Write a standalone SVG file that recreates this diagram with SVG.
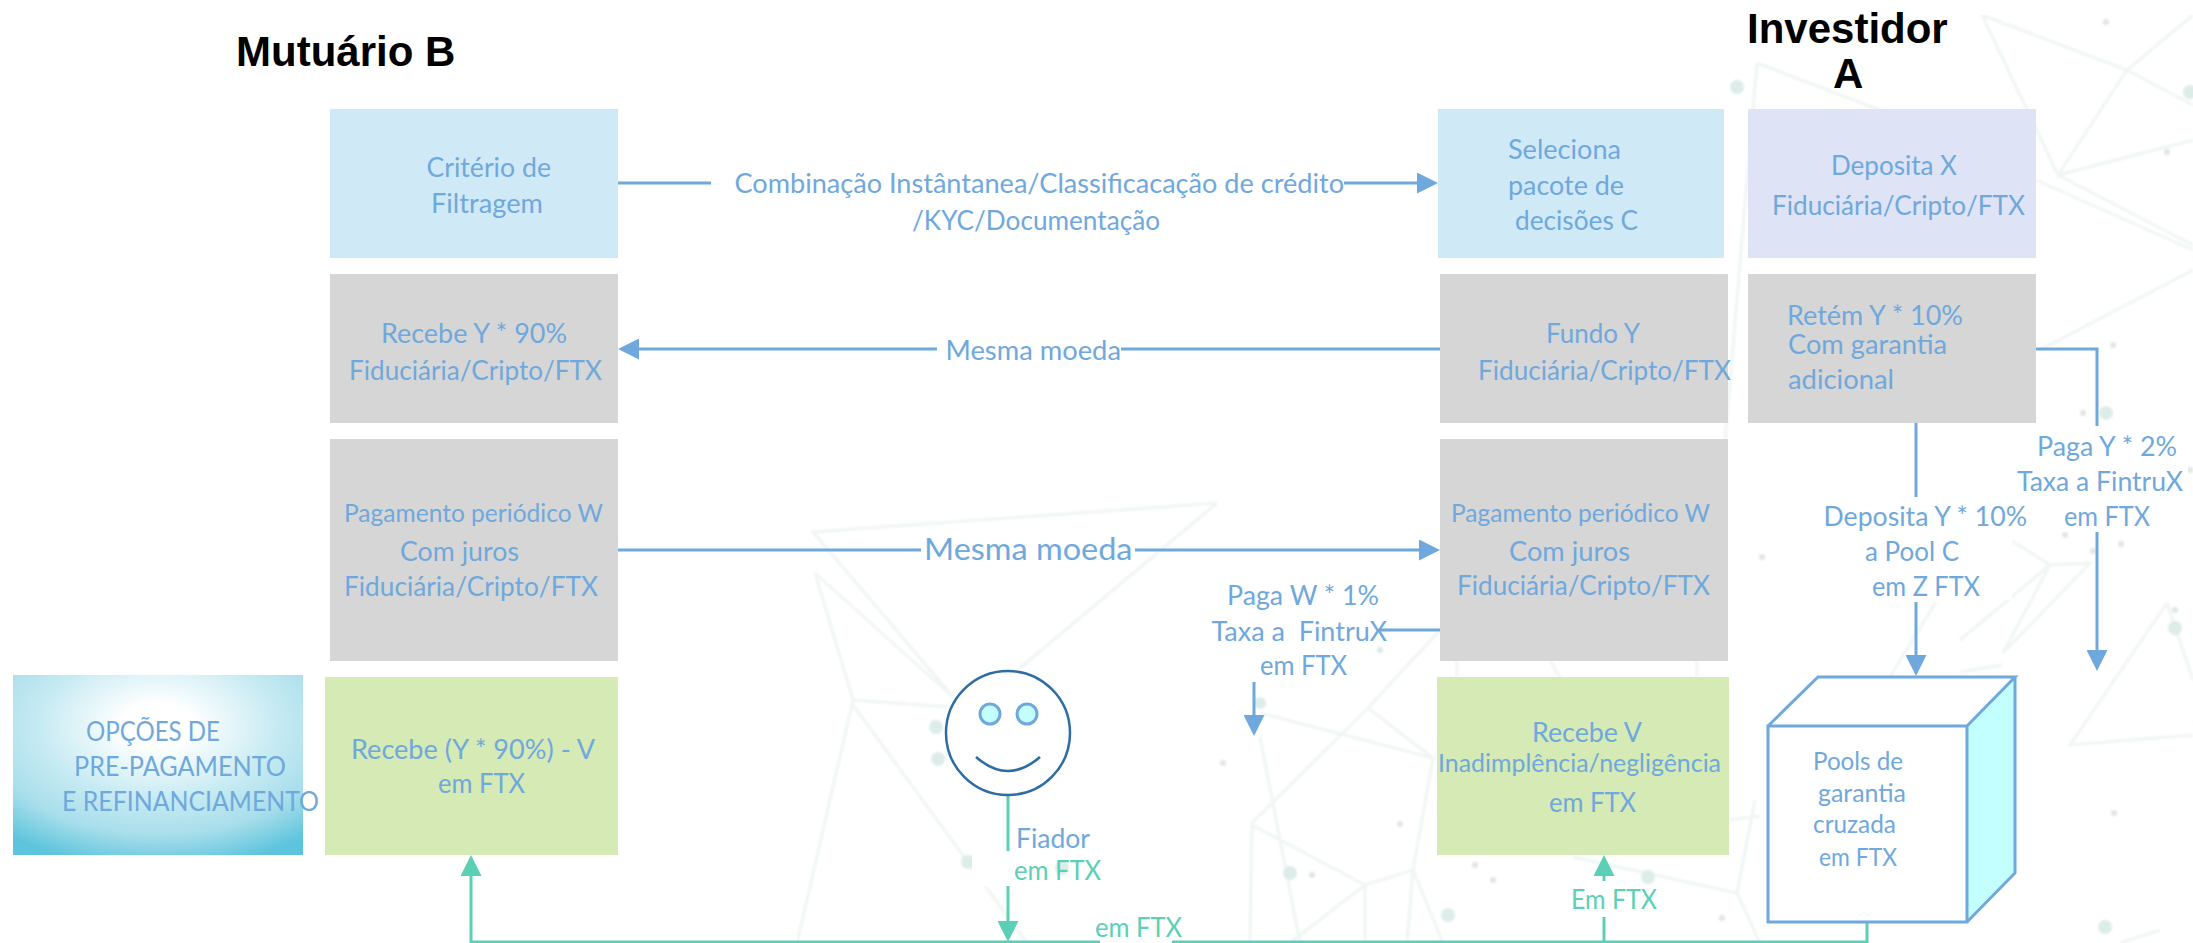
<svg xmlns="http://www.w3.org/2000/svg" width="2193" height="943" viewBox="0 0 2193 943">
<style>
text{font-family:Lato,"Open Sans","Noto Sans",sans-serif;font-size:27px;fill:#6fa8dc}
.h{font-family:"Liberation Sans",Arial,sans-serif;font-weight:bold;font-size:42px;fill:#000}
.s{font-size:25px}
.g{fill:#5bd0b5}
.c{fill:none;stroke:#6fa8dc;stroke-width:3}
.t{fill:none;stroke:#5bd0b5;stroke-width:3}
.bl{fill:none;stroke:#eff5f4;stroke-width:3}
.d1{fill:#dcece9}
.d2{fill:#dfe6e5}
.blue{fill:#d0e9f7}.grey{fill:#d6d6d6}.lime{fill:#d5eab5}.lav{fill:#dee3f5}
</style>
<defs>
<filter id="soft" x="0" y="0" width="1" height="1"><feGaussianBlur stdDeviation="0.9"/></filter>
<marker id="ab" markerUnits="userSpaceOnUse" markerWidth="21" markerHeight="21" refX="11" refY="10.5" orient="auto"><path d="M0 0L21 10.5L0 21z" fill="#6fa8dc"/></marker>
<marker id="ag" markerUnits="userSpaceOnUse" markerWidth="21" markerHeight="21" refX="11" refY="10.5" orient="auto"><path d="M0 0L21 10.5L0 21z" fill="#5bd0b5"/></marker>
<radialGradient id="opt" cx="0.5" cy="0.28" r="0.8">
<stop offset="0.15" stop-color="#fff"/><stop offset="0.5" stop-color="#c8ebf3"/><stop offset="0.76" stop-color="#a8deeb"/><stop offset="1" stop-color="#5cc4dc"/>
</radialGradient>
</defs>
<rect width="2193" height="943" fill="#fff"/>
<g id="background" filter="url(#soft)">
<path class="bl" d="M1217 503L813 532L953 697M815 573L953 697M815 573L853 700L950 707M853 700L797 943M853 705L1027 943M1217 503L1020 668M1260 737L1300 943M1252 823L1368 708L1440 630M1368 708L1433 758L1413 870L1407 943M1260 713L1433 758M1252 823L1250 943M1252 825L1365 885L1413 870L1443 943M1365 885V943M1365 885L1290 943M1573 857L1737 893L1760 943M1729 820L1760 816M1737 893L1755 800M1457 661V677M1550 661L1560 677M1697 661V677"/>
<path class="bl" d="M1982 15L2127 70L2193 105M1982 15L2058 175L2127 70L2193 15M2058 175L2193 140M2058 175L2193 245M2036 180L2193 250M1757 63L1880 110M1757 63L1725 440M2193 270L2040 350M2050 565L2090 563L2003 653L2050 565L2012 541M2050 565L1960 640M2003 665L1960 672M2167 603L2070 745L2193 735M2167 603L2193 680M2160 930L2120 943M1936 602L1890 677"/>
<g class="d1">
<circle cx="936" cy="727" r="7"/><circle cx="938" cy="759" r="7"/><circle cx="968" cy="862" r="7"/><circle cx="1062" cy="868" r="7"/><circle cx="1260" cy="703" r="6"/><circle cx="1290" cy="873" r="7"/><circle cx="1448" cy="915" r="7"/><circle cx="1648" cy="877" r="7"/><circle cx="1737" cy="87" r="7"/><circle cx="2106" cy="413" r="7"/><circle cx="2190" cy="92" r="7"/><circle cx="2175" cy="628" r="7"/><circle cx="2105" cy="927" r="7"/>
</g>
<g class="d2">
<circle cx="1223" cy="763" r="3"/><circle cx="1380" cy="650" r="3"/><circle cx="1400" cy="824" r="3"/><circle cx="1312" cy="875" r="3"/><circle cx="1475" cy="865" r="3"/><circle cx="1493" cy="880" r="3"/><circle cx="1722" cy="918" r="3"/><circle cx="2106" cy="22" r="3"/><circle cx="2167" cy="152" r="3"/><circle cx="2113" cy="345" r="3"/><circle cx="2083" cy="413" r="3"/><circle cx="2065" cy="535" r="3"/><circle cx="2093" cy="551" r="3"/><circle cx="2121" cy="544" r="3"/><circle cx="2175" cy="610" r="3"/><circle cx="2114" cy="813" r="3"/><circle cx="2190" cy="470" r="3"/><circle cx="1762" cy="557" r="3"/>
</g>
</g>
<rect x="1820" y="500" width="192" height="100" fill="#fff"/>
<rect x="2012" y="432" width="176" height="100" fill="#fff"/>
<rect x="972" y="851" width="40" height="35" fill="#fff"/>
<rect x="924" y="535" width="210" height="36" fill="#fff"/>
<text class="h" x="236" y="66">Mutuário B</text>
<text class="h" x="1747" y="43">Investidor</text>
<text class="h" x="1833" y="88">A</text>
<g id="connectors">
<path class="c" d="M617 183H711"/>
<path class="c" d="M1344 183H1428" marker-end="url(#ab)"/>
<path class="c" d="M937 349H628" marker-end="url(#ab)"/>
<path class="c" d="M1121 349H1440"/>
<path class="c" d="M618 550H921"/>
<path class="c" d="M1135 550H1430" marker-end="url(#ab)"/>
<path class="c" d="M1441 630H1379"/>
<path class="c" d="M1254 682V726" marker-end="url(#ab)"/>
<path class="c" d="M2034 349H2097V426"/>
<path class="c" d="M2097 532V661" marker-end="url(#ab)"/>
<path class="c" d="M1916 422V497"/>
<path class="c" d="M1916 602V666" marker-end="url(#ab)"/>
<path class="t" d="M1008 795V851"/>
<path class="t" d="M1008 886V932" marker-end="url(#ag)"/>
<path class="t" d="M1100 942H471V865" marker-end="url(#ag)"/>
<path class="t" d="M1172 942H1867V922"/>
<path class="t" d="M1604 942V917"/>
<path class="t" d="M1604 881V865" marker-end="url(#ag)"/>
<text x="734.5" y="193" textLength="609.5" lengthAdjust="spacingAndGlyphs">Combinação Instântanea/Classificacação de crédito</text>
<text x="912" y="230" textLength="248" lengthAdjust="spacingAndGlyphs">/KYC/Documentação</text>
<text x="945.5" y="360" textLength="175.5" lengthAdjust="spacingAndGlyphs">Mesma moeda</text>
<text x="924" y="560" style="font-size:31px" textLength="208.5" lengthAdjust="spacingAndGlyphs">Mesma moeda</text>
<text x="1227" y="605" textLength="152" lengthAdjust="spacingAndGlyphs">Paga W * 1%</text>
<text x="1211.5" y="641" textLength="175.5" lengthAdjust="spacingAndGlyphs" xml:space="preserve">Taxa a  FintruX</text>
<text x="1260" y="675" textLength="87" lengthAdjust="spacingAndGlyphs">em FTX</text>
<text x="2037" y="456" textLength="140" lengthAdjust="spacingAndGlyphs">Paga Y * 2%</text>
<text x="2017" y="491" textLength="166" lengthAdjust="spacingAndGlyphs">Taxa a FintruX</text>
<text x="2064" y="526" textLength="86" lengthAdjust="spacingAndGlyphs">em FTX</text>
<text x="1823.5" y="526" textLength="203.5" lengthAdjust="spacingAndGlyphs">Deposita Y * 10%</text>
<text x="1865" y="561" textLength="94" lengthAdjust="spacingAndGlyphs">a Pool C</text>
<text x="1872" y="596" textLength="108" lengthAdjust="spacingAndGlyphs">em Z FTX</text>
<text x="1016" y="848" textLength="74" lengthAdjust="spacingAndGlyphs">Fiador</text>
<text class="g" x="1014" y="880" textLength="87" lengthAdjust="spacingAndGlyphs">em FTX</text>
<text class="g" x="1095" y="937" textLength="87" lengthAdjust="spacingAndGlyphs">em FTX</text>
<text class="g" x="1571" y="909" textLength="86" lengthAdjust="spacingAndGlyphs">Em FTX</text>
</g>
<g id="criterio"><rect class="blue" x="330" y="109" width="288" height="149"/>
<text x="426.5" y="177" textLength="124.5" lengthAdjust="spacingAndGlyphs">Critério de</text>
<text x="431" y="213" textLength="112" lengthAdjust="spacingAndGlyphs">Filtragem</text></g>
<g id="seleciona"><rect class="blue" x="1438" y="109" width="286" height="149"/>
<text x="1508" y="159" textLength="113" lengthAdjust="spacingAndGlyphs">Seleciona</text>
<text x="1508" y="195" textLength="116" lengthAdjust="spacingAndGlyphs">pacote de</text>
<text x="1515" y="230" textLength="123" lengthAdjust="spacingAndGlyphs">decisões C</text></g>
<g id="deposita"><rect class="lav" x="1748" y="109" width="288" height="149"/>
<text x="1831" y="175" textLength="126" lengthAdjust="spacingAndGlyphs">Deposita X</text>
<text x="1772" y="215" textLength="253" lengthAdjust="spacingAndGlyphs">Fiduciária/Cripto/FTX</text></g>
<g id="recebe"><rect class="grey" x="330" y="274" width="288" height="149"/>
<text x="381" y="343" textLength="186" lengthAdjust="spacingAndGlyphs">Recebe Y * 90%</text>
<text x="349" y="380" textLength="253" lengthAdjust="spacingAndGlyphs">Fiduciária/Cripto/FTX</text></g>
<g id="fundo"><rect class="grey" x="1440" y="274" width="288" height="149"/>
<text x="1546" y="343" textLength="94" lengthAdjust="spacingAndGlyphs">Fundo Y</text>
<text x="1478" y="380" textLength="253" lengthAdjust="spacingAndGlyphs">Fiduciária/Cripto/FTX</text></g>
<g id="retem"><rect class="grey" x="1748" y="274" width="288" height="149"/>
<text x="1787" y="325" textLength="176" lengthAdjust="spacingAndGlyphs">Retém Y * 10%</text>
<text x="1788" y="354" textLength="159" lengthAdjust="spacingAndGlyphs">Com garantia</text>
<text x="1788" y="389" textLength="106" lengthAdjust="spacingAndGlyphs">adicional</text></g>
<g id="pagamento-b"><rect class="grey" x="330" y="439" width="288" height="222"/>
<text class="s" x="344" y="522" textLength="259" lengthAdjust="spacingAndGlyphs">Pagamento periódico W</text>
<text x="400" y="561" textLength="119" lengthAdjust="spacingAndGlyphs">Com juros</text>
<text x="344" y="596" textLength="254" lengthAdjust="spacingAndGlyphs">Fiduciária/Cripto/FTX</text></g>
<g id="pagamento-a"><rect class="grey" x="1440" y="439" width="288" height="222"/>
<text class="s" x="1451" y="522" textLength="259" lengthAdjust="spacingAndGlyphs">Pagamento periódico W</text>
<text x="1509" y="561" textLength="121" lengthAdjust="spacingAndGlyphs">Com juros</text>
<text x="1457" y="595" textLength="253" lengthAdjust="spacingAndGlyphs">Fiduciária/Cripto/FTX</text></g>
<g id="opcoes"><rect x="13" y="675" width="290" height="180" fill="url(#opt)"/>
<text x="86" y="741" textLength="134" lengthAdjust="spacingAndGlyphs">OPÇÕES DE</text>
<text x="74" y="776" textLength="212" lengthAdjust="spacingAndGlyphs">PRE-PAGAMENTO</text>
<text x="62" y="811" textLength="257" lengthAdjust="spacingAndGlyphs">E REFINANCIAMENTO</text></g>
<g id="recebe-b"><rect class="lime" x="325" y="677" width="293" height="178"/>
<text x="351" y="759" textLength="244" lengthAdjust="spacingAndGlyphs">Recebe (Y * 90%) - V</text>
<text x="438" y="793" textLength="87" lengthAdjust="spacingAndGlyphs">em FTX</text></g>
<g id="recebe-v"><rect class="lime" x="1437" y="677" width="292" height="178"/>
<text x="1532" y="742" textLength="110" lengthAdjust="spacingAndGlyphs">Recebe V</text>
<text class="s" x="1438" y="772" textLength="283" lengthAdjust="spacingAndGlyphs">Inadimplência/negligência</text>
<text x="1549" y="812" textLength="87" lengthAdjust="spacingAndGlyphs">em FTX</text></g>
<g id="fiador">
<circle cx="1008" cy="733" r="62" fill="#fff" stroke="#2e6ca4" stroke-width="2.5"/>
<circle cx="990" cy="714" r="10" fill="#c4ffff" stroke="#6fa8dc" stroke-width="3"/>
<circle cx="1027" cy="714" r="10" fill="#c4ffff" stroke="#6fa8dc" stroke-width="3"/>
<path d="M976 757Q1008 785 1040 757" fill="none" stroke="#2e6ca4" stroke-width="2.5"/>
</g>
<g id="pools">
<path d="M1768 726H1967V922H1768z" fill="#fff"/>
<path d="M1768 726L1818 677H2015L1967 726z" fill="#fff"/>
<path d="M1967 726L2015 677V873L1967 922z" fill="#c4ffff"/>
<path d="M1768 726H1967V922H1768zM1768 726L1818 677H2015L1967 726M2015 677V873L1967 922" fill="none" stroke="#6fa8dc" stroke-width="3" stroke-linejoin="miter"/>
<text class="s" x="1813" y="770" textLength="90" lengthAdjust="spacingAndGlyphs">Pools de</text>
<text class="s" x="1818" y="802" textLength="88" lengthAdjust="spacingAndGlyphs">garantia</text>
<text class="s" x="1813" y="833" textLength="83" lengthAdjust="spacingAndGlyphs">cruzada</text>
<text class="s" x="1819" y="866" textLength="78" lengthAdjust="spacingAndGlyphs">em FTX</text>
</g>
</svg>
